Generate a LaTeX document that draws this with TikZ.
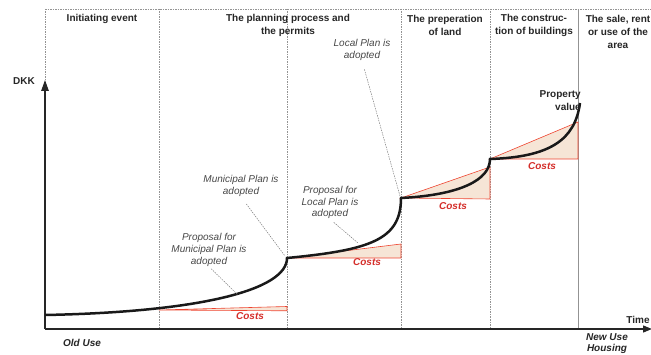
\documentclass[tikz,border=0pt]{standalone}
\usepackage{fontspec}
\setmainfont{Liberation Sans}
\usetikzlibrary{arrows.meta}
\definecolor{costred}{HTML}{D42E2A}
\definecolor{linered}{HTML}{EE4430}
\definecolor{beige}{HTML}{F6E5D6}
\begin{document}
\begin{tikzpicture}[x=1pt,y=-1pt,
  hdr/.style={font=\fontsize{10}{13}\selectfont\bfseries, text=black!85, align=center, inner sep=0pt},
  note/.style={font=\fontsize{10}{11.8}\selectfont\itshape, text=black!72, align=center, inner sep=0pt},
  costlbl/.style={font=\fontsize{10}{12}\selectfont\bfseries\itshape, text=costred, inner sep=0pt},
  phase/.style={draw=gray!85, dash pattern=on 1.5pt off 1pt, line width=0.6pt},
  leader/.style={draw=black!55, dash pattern=on 1.5pt off 1pt, line width=0.45pt},
  costtri/.style={draw=linered, fill=beige, line width=0.6pt, line join=miter},
  curve/.style={line width=2.5pt, black!90},
  axis/.style={line width=1.3pt, black!85},
]
\useasboundingbox (0,0) rectangle (651,355);

% frame coordinates
\coordinate (tl) at (45,9);
\coordinate (tr) at (651,9);
\coordinate (o) at (45,329);
\coordinate (ytip) at (45,80);
\coordinate (xtip) at (652,329);
\foreach \n/\x in {a/159,b/287,c/401,d/490}{
  \coordinate (\n t) at (\x,9);
  \coordinate (\n b) at (\x,329);
}
\coordinate (et) at (578,9);
\coordinate (eb) at (578,329);

% top dashed line and phase separators
\draw[phase] (tl) -- (tr);
\draw[phase] (tl) -- (ytip);
\foreach \n in {a,b,c,d}{ \draw[phase] (\n t) -- (\n b); }
\draw[gray!85, line width=0.6pt] (et) -- (eb);

% axes
\draw[axis, -{Triangle[length=11pt,width=7.5pt]}] (o) -- (ytip);
\draw[axis, -{Triangle[length=9pt,width=7pt]}] (o) -- (xtip);

% curve points
\coordinate (c0) at (45,315);
\coordinate (c1) at (287,258);
\coordinate (c2) at (401,198);
\coordinate (c3) at (490,159);
\coordinate (c4) at (580,103);

% cost triangles
\coordinate (t1a) at (159,310);
\draw[costtri] (t1a) -- (287,306.5) -- (287,310.8) -- cycle;
\draw[costtri] (c1) -- (401,244) -- (401,258) -- cycle;
\draw[costtri] (c2) -- (490,167) -- (490,199) -- cycle;
\draw[costtri] (c3) -- (578,122) -- (578,159) -- cycle;

% value curve
\draw[curve] (c0) .. controls (200,312) and (287,290) .. (c1)
  .. controls (370,250) and (401,240) .. (c2)
  .. controls (460,195) and (490,180) .. (c3)
  .. controls (550,157) and (575,140) .. (c4);

% cost labels
\node[costlbl] (k1) at (250,316) {Costs};
\node[costlbl] (k2) at (367,262) {Costs};
\node[costlbl] (k3) at (453,206) {Costs};
\node[costlbl] (k4) at (542,166) {Costs};

% headers
\node[hdr] (h1) at (102,19) {Initiating event};
\node[hdr] (h2) at (288,25.5) {The planning process and\\the permits};
\node[hdr] (h3) at (445,25.5) {The preperation\\of land};
\node[hdr] (h4) at (534,25.5) {The construc-\\tion of buildings};
\node[hdr] (h5) at (618,32) {The sale, rent\\or use of the\\area};

% axis labels
\node[hdr] (dkk) at (24,81) {DKK};
\node[hdr] (time) at (638,320) {Time};
\node[hdr, align=right, anchor=east] (pv) at (581,100.5) {Property\\value};
\node[hdr, font=\fontsize{10}{11.5}\selectfont\bfseries\itshape] (old) at (82,343) {Old Use};
\node[hdr, font=\fontsize{10}{11.5}\selectfont\bfseries\itshape] (new) at (607,343.5) {New Use\\Housing};

% annotations
\node[note] (pm) at (209,250) {Proposal for\\Municipal Plan is\\adopted};
\node[note] (ma) at (241,186) {Municipal Plan is\\adopted};
\node[note] (pl) at (330,202.5) {Proposal for\\Local Plan is\\adopted};
\node[note] (la) at (362,50) {Local Plan is\\adopted};

\coordinate (e1) at (238,295);
\coordinate (e2) at (285,256);
\coordinate (e3) at (358,243);
\coordinate (e4) at (400,196);
\draw[leader, shorten <=3pt] (pm.south) -- (e1);
\draw[leader, shorten <=9pt] (ma.south) -- (e2);
\draw[leader, shorten <=5pt] (pl.south) -- (e3);
\draw[leader, shorten <=9pt] (la.south) -- (e4);
\end{tikzpicture}
\end{document}
